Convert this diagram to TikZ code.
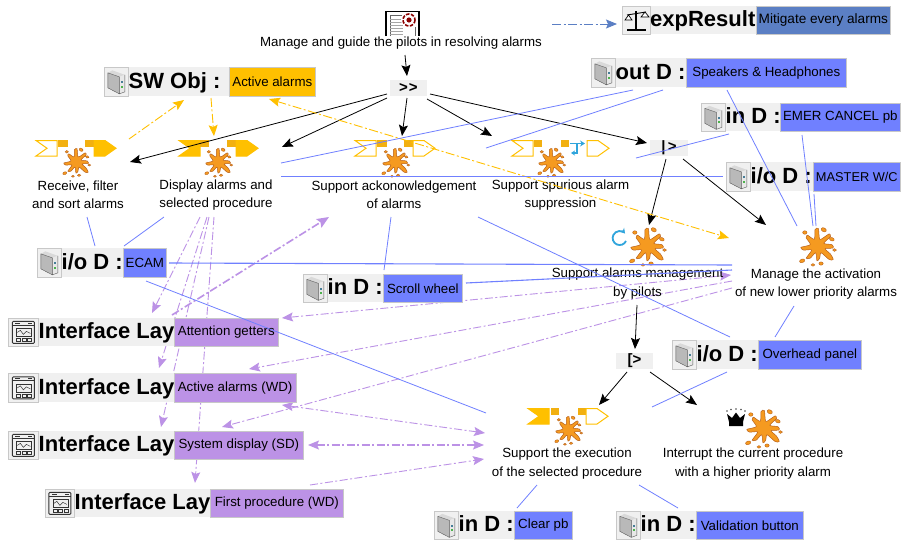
\documentclass[tikz,border=0pt]{standalone}
\usepackage{fontspec}
\setmainfont{Liberation Sans}
\usetikzlibrary{arrows.meta}
\definecolor{yel}{HTML}{FFC000}
\definecolor{sqy}{HTML}{F2B010}
\definecolor{dev}{HTML}{7080FF}
\definecolor{pur}{HTML}{BC92E6}
\definecolor{exb}{HTML}{5B7FC4}
\definecolor{lgr}{HTML}{F0F0F0}
\definecolor{bdr}{HTML}{C8C8C8}
\definecolor{spl}{HTML}{F59A20}
\definecolor{spd}{HTML}{B8601A}
\definecolor{cyc}{HTML}{30A5DC}
\tikzset{
  x=1pt,y=-1pt,
  tasktext/.style={align=center,inner sep=0pt,font=\fontsize{13.3}{18.4}\selectfont},
  boldlab/.style={anchor=base west,inner sep=0pt,font=\fontsize{22}{22}\selectfont\bfseries},
  opbox/.style={fill=lgr,inner sep=0pt,font=\fontsize{15}{15}\selectfont\bfseries},
  colbox/.style={anchor=north west,draw=bdr,line width=0.7pt,inner sep=0pt,font=\fontsize{13.3}{13.3}\selectfont},
  iconbg/.style={anchor=north west,draw=bdr,fill=lgr,line width=0.7pt,inner sep=0pt},
  blk/.style={black,line width=0.8pt,-{Stealth[length=11pt,width=9pt,inset=2pt]}},
  blu/.style={dev,line width=0.8pt},
  yl/.style={yel,line width=0.9pt,dash pattern=on 9pt off 2.5pt on 2pt off 2.5pt,-{Stealth[length=11pt,width=9pt,inset=2pt]}},
  yl2/.style={yel,line width=0.9pt,dash pattern=on 9pt off 2.5pt on 2pt off 2.5pt,{Stealth[length=11pt,width=9pt,inset=2pt]}-{Stealth[length=11pt,width=9pt,inset=2pt]}},
  pu/.style={pur,line width=0.9pt,dash pattern=on 8pt off 2.5pt on 2pt off 2.5pt,-{Stealth[length=11pt,width=9pt,inset=2pt]}},
  pu2/.style={pur,line width=0.9pt,dash pattern=on 8pt off 2.5pt on 2pt off 2.5pt,{Stealth[length=11pt,width=9pt,inset=2pt]}-{Stealth[length=11pt,width=9pt,inset=2pt]}},
  puth/.style={pur,line width=1.6pt,dash pattern=on 8pt off 2.5pt on 2pt off 2.5pt,-{Stealth[length=12pt,width=10pt,inset=2pt]}},
  exa/.style={exb,line width=0.9pt,dash pattern=on 9pt off 2.5pt on 2pt off 2.5pt,-{Stealth[length=11pt,width=9pt,inset=2pt]}},
  inmark/.pic={\path[pic actions] (0,0)--(21,0)--(21,15.5)--(0,15.5)--(11,7.75)--cycle;},
  outmark/.pic={\path[pic actions] (0,0)--(11,0)--(22,7.75)--(11,15.5)--(0,15.5)--cycle;},
  splat/.pic={
    \draw[fill=spl,draw=spd,line width=0.5pt,line join=round]
      plot[smooth cycle,tension=0.45] coordinates {
        (-2,-5)(-1.5,-12)(1,-13)(2,-5)(6,-7)(9,-9)(10,-7)(5,-2)(11,-1)(12,1.5)(6,2)(10,6)(12,10)(9,10)(3,5)(2,9)(0,11)(-1,5)(-5,9)(-8,9)(-4,3)(-10,3)(-12,1)(-5,-1)(-8,-6)(-7,-8)};
    \foreach \cx/\cy/\rx/\ry/\rt in {5/-12/2/1.4/-30,11/-5/1.8/1.2/-20,13/3/1.4/1/0,-9/-10/1.6/1.3/0,-11/11/2/1.3/20,3/13/1.6/1.2/0,-3/14/1.4/1/0}
      \draw[fill=spl,draw=spd,line width=0.4pt,rotate around={\rt:(\cx,\cy)}] (\cx,\cy) ellipse[x radius=\rx,y radius=\ry];
  },
  devico/.pic={
    \fill[gray!55] (-8.5,-9)--(3,-5)--(3,12)--(-8.5,6)--cycle;
    \fill[gray!30] (-8.5,-9)--(-4,-11.5)--(8.5,-7)--(3,-5)--cycle;
    \fill[gray!18] (3,-5)--(8.5,-7)--(8.5,10)--(3,12)--cycle;
    \draw[gray!70!black,line width=0.4pt] (-8.5,-9)--(3,-5)--(3,12)--(-8.5,6)--cycle (3,12)--(8.5,10)--(8.5,-7);
    \fill[cyan!55!black] (4.5,-0.5) rectangle (7,1.5);
    \fill[green!40!gray] (5,4) rectangle (7,6);
  },
  winico/.pic={
    \draw[black!80,line width=0.9pt,rounded corners=1pt] (-11,-11) rectangle (11,11);
    \draw[black!80,line width=0.7pt] (-11,-7.5)--(11,-7.5) (-8,-9.2)--(-3,-9.2) (5,-9.2)--(9,-9.2);
    \draw[black!80,line width=0.5pt] (-7,-4) rectangle (8,4);
    \draw[black!80,line width=0.5pt] (-6,0)--(-3,-2)--(0,2)--(3,-1)--(7,1);
    \draw[black!80,line width=0.6pt] (-7,6) rectangle (-3,9) (-1.5,6) rectangle (2.5,9) (4,6) rectangle (8,9);
  }
}
\newcommand{\labset}[9]{% name x0 y0 xa xb x1 y1 icon lefttext
  \pgfmathsetmacro{\wI}{#4-#2}\pgfmathsetmacro{\wL}{#5-#4}\pgfmathsetmacro{\hB}{#7-#3}
  \node[anchor=north west,fill=lgr,inner sep=0pt,minimum width=\wL pt,minimum height=\hB pt] (#1-bg) at (#4,#3) {};
  \node[iconbg,minimum width=\wI pt,minimum height=\hB pt] (#1-icon) at (#2,#3) {};
  \pic at (#1-icon.center) {#8};
  \node[boldlab] (#1-lab) at (#4+0.5,#7-8) {#9};
}
\begin{document}
\begin{tikzpicture}
\useasboundingbox (0,0) rectangle (903,541);
\fill[white] (0,0) rectangle (903,541);

% ---- named ends of the connectors
\coordinate (ma) at (405,55);   \coordinate (mb) at (407,76);
\coordinate (s1a) at (387,94);  \coordinate (s1b) at (130,162);
\coordinate (s2a) at (387,98);  \coordinate (s2b) at (282,147);
\coordinate (s3a) at (407,98);  \coordinate (s3b) at (402,136);
\coordinate (s4a) at (427,99);  \coordinate (s4b) at (492,136);
\coordinate (s5a) at (430,94);  \coordinate (s5b) at (647,143);
\coordinate (d1a) at (666,159); \coordinate (d1b) at (649,225);
\coordinate (d2a) at (683,159); \coordinate (d2b) at (766,225);
\coordinate (e0a) at (637,305); \coordinate (e0b) at (635,349);
\coordinate (e1a) at (627,372); \coordinate (e1b) at (599,405);
\coordinate (e2a) at (650,372); \coordinate (e2b) at (697,405);
\coordinate (y1a) at (129,139); \coordinate (y1b) at (184,100);
\coordinate (y2a) at (211,98);  \coordinate (y2b) at (214,136);
\coordinate (y3a) at (269,99);  \coordinate (y3b) at (729,238);
\coordinate (xa) at (552,24);   \coordinate (xb) at (617,24);
\coordinate (p1a) at (200,217); \coordinate (p1b) at (152,313);
\coordinate (p2a) at (207,217); \coordinate (p2b) at (159,368);
\coordinate (p3a) at (209,217); \coordinate (p3b) at (161,427);
\coordinate (p4a) at (214,217); \coordinate (p4b) at (195,483);
\coordinate (p5a) at (172,315); \coordinate (p5b) at (329,217);
\coordinate (p6a) at (282,318); \coordinate (p6b) at (731,275);
\coordinate (p7a) at (732,281); \coordinate (p7b) at (249,369);
\coordinate (p8a) at (732,288); \coordinate (p8b) at (222,427);
\coordinate (p9a) at (282,405); \coordinate (p9b) at (485,433);
\coordinate (p10a) at (308,445);\coordinate (p10b) at (484,445);
\coordinate (p11a) at (310,485);\coordinate (p11b) at (484,459);
\coordinate (b1a) at (87,217);  \coordinate (b1b) at (95,246);
\coordinate (b2a) at (164,217); \coordinate (b2b) at (124,246);
\coordinate (b3a) at (169,263); \coordinate (b3b) at (732,265);
\coordinate (b4a) at (146,281); \coordinate (b4b) at (486,413);
\coordinate (b5a) at (391,217); \coordinate (b5b) at (384,270);
\coordinate (b6a) at (466,283); \coordinate (b6b) at (732,270);
\coordinate (b7a) at (281,176.7);\coordinate (b7b) at (723,176.7);
\coordinate (b8a) at (281,163); \coordinate (b8b) at (633,90);
\coordinate (b9a) at (486,148); \coordinate (b9b) at (663,90);
\coordinate (b10a) at (727,90); \coordinate (b10b) at (797,226);
\coordinate (b11a) at (636,158);\coordinate (b11b) at (729,134);
\coordinate (b12a) at (802,135);\coordinate (b12b) at (813,226);
\coordinate (b13a) at (814,194);\coordinate (b13b) at (816,226);
\coordinate (b14a) at (478,217);\coordinate (b14b) at (730,337);
\coordinate (b15a) at (775,337);\coordinate (b15b) at (794,306);
\coordinate (b16a) at (727,372);\coordinate (b16b) at (652,407);
\coordinate (b17a) at (537,485);\coordinate (b17b) at (517,508);
\coordinate (b18a) at (639,485);\coordinate (b18b) at (678,508);

% ---- purple connectors run behind the boxes
\draw[pu] (p1a) -- (p1b);
\draw[pu] (p2a) -- (p2b);
\draw[pu] (p3a) -- (p3b);
\draw[pu] (p4a) -- (p4b);
\draw[puth] (p5a) -- (p5b);
\draw[pu2] (p6a) -- (p6b);
\draw[pu] (p7a) -- (p7b);
\draw[pu] (p8a) -- (p8b);
\draw[pu2] (p9a) -- (p9b);
\draw[pu2,line width=1.3pt] (p10a) -- (p10b);
\draw[pu] (p11a) -- (p11b);

% ---- top task
\draw[black,line width=1.1pt] (386,36)--(386,11.5)--(419,11.5)--(419,36);
\draw[black!60,line width=0.6pt] (390,36)--(390,15)--(402,15);
\foreach \yy in {19,22,25,28,31,34} \draw[gray!70,line width=0.5pt] (390,\yy)--(403,\yy);
\draw[black!60,line width=0.6pt] (415,27)--(415,36);
\fill[white] (409,20) circle (8);
\draw[red!55!black,line width=1.6pt,dash pattern=on 3.5pt off 1.5pt] (409,20) circle (6);
\fill[red!55!black] (409,20) circle (2.6);
\node[tasktext] (top) at (401,43) {Manage and guide the pilots in resolving alarms};

% ---- operators
\node[opbox,minimum width=37pt,minimum height=16pt] (op1) at (408.5,88) {>\kern1pt>};
\node[opbox,minimum width=38pt,minimum height=16pt] (op2) at (669,148) {|\kern2.5pt>};
\node[opbox,minimum width=37pt,minimum height=16pt] (op3) at (634.5,361) {[>};

% ---- task markers
\pic[draw=yel,fill=white,line width=1pt] at (36,140.5) {inmark};
\fill[sqy] (58,140) rectangle (68,147);
\fill[sqy] (85,140) rectangle (94,147);
\pic[draw=yel,fill=yel,line width=1pt] at (94,140.5) {outmark};
\pic[scale=1.02] at (76,162) {splat};
\node[tasktext] (t1) at (78,195) {Receive, filter\\and sort alarms};

\pic[draw=yel,fill=yel,line width=1pt] at (179,140.5) {inmark};
\fill[sqy] (200,140) rectangle (209,147);
\fill[sqy] (227,140) rectangle (236,147);
\pic[draw=yel,fill=yel,line width=1pt] at (236,140.5) {outmark};
\pic[scale=1.02] at (218,162) {splat};
\node[tasktext] (t2) at (216,195) {Display alarms and\\selected procedure};

\pic[draw=yel,fill=white,line width=1pt] at (355,140.5) {inmark};
\fill[sqy] (377,140) rectangle (387,147);
\fill[sqy] (404,140) rectangle (413,147);
\pic[draw=yel,fill=white,line width=1pt] at (413,140.5) {outmark};
\pic[scale=1.02] at (395,162) {splat};
\node[tasktext] (t3) at (394,195) {Support ackonowledgement\\of alarms};

\pic[draw=yel,fill=white,line width=1pt] at (512,140.5) {inmark};
\fill[sqy] (534,140) rectangle (542,147);
\fill[sqy] (561,140) rectangle (569,147);
\pic[draw=yel,fill=white,line width=1pt] at (587,140.5) {outmark};
\draw[cyc,line width=1.6pt,-{Stealth[length=5pt,width=6pt]}] (570,143.5)--(585,143.5);
\draw[cyc,line width=1.6pt,-{Stealth[length=4pt,width=5pt]}] (577,144)--(577,153)--(571,153);
\pic[scale=1.02] at (551,162) {splat};
\node[tasktext] (t4) at (560.5,195) {Support spurious alarm\\suppression};

\draw[cyc,line width=1.8pt,-{Stealth[length=5pt,width=6pt]}] (626,241) arc[start angle=25,end angle=320,radius=7];
\pic[scale=1.35] at (647,246) {splat};
\node[tasktext] (t5) at (637.5,283.5) {Support alarms management\\by pilots};

\pic[scale=1.35] at (817,246) {splat};
\node[tasktext] (t6) at (816,284) {Manage the activation\\of new lower priority alarms};

\pic[draw=yel,fill=yel,line width=1pt] at (528,408.5) {inmark};
\fill[sqy] (551,408) rectangle (559,415);
\fill[sqy] (578,408) rectangle (586,415);
\pic[draw=yel,fill=white,line width=1pt] at (586,408.5) {outmark};
\pic[scale=1.02] at (568,430) {splat};
\node[tasktext] (t7) at (567,463.5) {Support the execution\\of the selected procedure};

\fill[black] (729,426)--(729,422)--(727,414)--(732,418)--(736,412.5)--(740,418)--(745,414)--(743,422)--(743,426)--cycle;
\foreach \px/\py in {727/411,731/409.5,736/409,741/409.5,745/411} \fill[black!70] (\px,\py) circle (0.8);
\pic[scale=1.35] at (763,428) {splat};
\node[tasktext] (t8) at (753,463.5) {Interrupt the current procedure\\with a higher priority alarm};

% ---- labelled boxes
\labset{sw}{104}{67}{128}{229}{315}{96}{devico}{SW Obj :}
\node[colbox,fill=yel,minimum width=86pt,minimum height=29pt] (swv) at (229,67) {Active alarms};

\node[anchor=north west,fill=lgr,inner sep=0pt,minimum width=106pt,minimum height=28pt] (ex-bg) at (650,6) {};
\node[iconbg,minimum width=28pt,minimum height=28pt] (ex-icon) at (622,6) {};
\draw[black,line width=1.1pt] (636,11)--(636,29);
\draw[black,line width=1.8pt] (627,30)--(646,30);
\draw[black,line width=0.9pt] (627,15)--(646,12);
\draw[black,line width=0.7pt,fill=white] (625,20)--(632,20)--(628.5,15)--cycle;
\draw[black,line width=0.7pt,fill=white] (641,17)--(649,17)--(645,12)--cycle;
\node[boldlab] (ex-lab) at (650,26.5) {expResult};
\node[colbox,fill=exb,minimum width=134pt,minimum height=28pt,font=\fontsize{13.6}{13.6}\selectfont] (exv) at (756,6) {Mitigate every alarms};

\labset{outd}{591}{58}{615}{686}{846}{87}{devico}{out D :}
\node[colbox,fill=dev,minimum width=160pt,minimum height=29pt] (outv) at (686,58) {Speakers \& Headphones};
\labset{emer}{701}{103}{725}{780}{900}{131}{devico}{in D :}
\node[colbox,fill=dev,minimum width=120pt,minimum height=28pt] (emerv) at (780,103) {EMER CANCEL pb};
\labset{mast}{726}{162}{750}{813}{900}{191}{devico}{i/o D :}
\node[colbox,fill=dev,minimum width=87pt,minimum height=29pt,font=\fontsize{12.8}{12.8}\selectfont] (mastv) at (813,162) {MASTER W/C};
\labset{ecam}{37}{248}{61}{123}{166}{277}{devico}{i/o D :}
\node[colbox,fill=dev,minimum width=43pt,minimum height=29pt] (ecamv) at (123,248) {ECAM};
\labset{scr}{303}{274}{327}{383}{462}{302}{devico}{in D :}
\node[colbox,fill=dev,minimum width=79pt,minimum height=28pt] (scrv) at (383,274) {Scroll wheel};
\labset{il1}{8}{318}{38}{174}{278}{346}{winico}{Interface Lay}
\node[colbox,fill=pur,minimum width=104pt,minimum height=28pt] (il1v) at (174,318) {Attention getters};
\labset{il2}{8}{373}{38}{174}{295.5}{402}{winico}{Interface Lay}
\node[colbox,fill=pur,minimum width=121.5pt,minimum height=29pt] (il2v) at (174,373) {Active alarms (WD)};
\labset{il3}{8}{431}{38}{174}{303}{459}{winico}{Interface Lay}
\node[colbox,fill=pur,minimum width=129pt,minimum height=28pt] (il3v) at (174,431) {System display (SD)};
\labset{il4}{45}{489}{74}{210}{343}{517}{winico}{Interface Lay}
\node[colbox,fill=pur,minimum width=133pt,minimum height=28pt] (il4v) at (210,489) {First procedure (WD)};
\labset{ovh}{672}{340}{696}{758}{861}{369}{devico}{i/o D :}
\node[colbox,fill=dev,minimum width=103pt,minimum height=29pt] (ovhv) at (758,340) {Overhead panel};
\labset{clr}{434}{511}{458}{514}{572}{539}{devico}{in D :}
\node[colbox,fill=dev,minimum width=58pt,minimum height=28pt] (clrv) at (514,511) {Clear pb};
\labset{val}{616}{511}{640}{696}{803}{539}{devico}{in D :}
\node[colbox,fill=dev,minimum width=107pt,minimum height=28pt] (valv) at (696,511) {Validation button};

% ---- black, yellow and blue connectors on top
\draw[blk] (ma) -- (mb);
\draw[blk] (s1a) -- (s1b);
\draw[blk] (s2a) -- (s2b);
\draw[blk] (s3a) -- (s3b);
\draw[blk] (s4a) -- (s4b);
\draw[blk] (s5a) -- (s5b);
\draw[blk] (d1a) -- (d1b);
\draw[blk] (d2a) -- (d2b);
\draw[blk] (e0a) -- (e0b);
\draw[blk] (e1a) -- (e1b);
\draw[blk] (e2a) -- (e2b);
\draw[yl] (y1a) -- (y1b);
\draw[yl] (y2a) -- (y2b);
\draw[yl2] (y3a) -- (y3b);
\draw[exa] (xa) -- (xb);
\draw[blu] (b1a) -- (b1b);
\draw[blu] (b2a) -- (b2b);
\draw[blu,line width=1.1pt] (b3a) -- (b3b);
\draw[blu] (b4a) -- (b4b);
\draw[blu] (b5a) -- (b5b);
\draw[blu,line width=1.1pt] (b6a) -- (b6b);
\draw[blu,line width=1.1pt] (b7a) -- (b7b);
\draw[blu] (b8a) -- (b8b);
\draw[blu] (b9a) -- (b9b);
\draw[blu] (b10a) -- (b10b);
\draw[blu] (b11a) -- (b11b);
\draw[blu] (b12a) -- (b12b);
\draw[blu] (b13a) -- (b13b);
\draw[blu] (b14a) -- (b14b);
\draw[blu] (b15a) -- (b15b);
\draw[blu] (b16a) -- (b16b);
\draw[blu] (b17a) -- (b17b);
\draw[blu] (b18a) -- (b18b);
\end{tikzpicture}
\end{document}
